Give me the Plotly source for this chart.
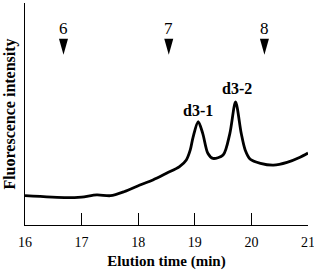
import plotly.graph_objects as go

# Elution profile (arbitrary fluorescence units)
time_min = [16, 16.74, 17.0, 17.27, 17.51, 17.75, 18.03, 18.26, 18.5, 18.73, 18.85,
            18.92, 18.97, 19.06, 19.14, 19.23, 19.32, 19.5, 19.62, 19.72, 19.82,
            19.89, 19.98, 20.16, 20.39, 20.63, 20.86, 21]
intensity = [13.2, 12.3, 12.6, 13.6, 13.2, 15.0, 18.0, 20.3, 23.3, 26.3, 29.3,
             33.8, 39.6, 46.5, 41.3, 32.3, 30.0, 31.5, 41.3, 55.5, 41.3,
             33.8, 29.6, 27.8, 27.0, 28.2, 30.5, 32.4]

# Fraction markers
marker_x = [16.68, 18.54, 20.23]
marker_labels = ["6", "7", "8"]

# Peak labels
peak_x = [19.05, 19.74]
peak_y = [51.8, 61.3]
peak_labels = ["d3-1", "d3-2"]

x_ticks = [16, 17, 18, 19, 20, 21]

serif = "Liberation Serif, Times New Roman, serif"

fig = go.Figure()
fig.add_trace(go.Scatter(x=time_min, y=intensity, mode="lines",
                         line=dict(color="black", width=2.8, shape="spline", smoothing=0.8),
                         showlegend=False, hoverinfo="skip"))

for x, t in zip(marker_x, marker_labels):
    fig.add_annotation(x=x, y=88.6, text=t, showarrow=False,
                       font=dict(family=serif, size=17, color="black"))
    fig.add_shape(type="path", xref="x", yref="y", xsizemode="pixel", ysizemode="pixel",
                  xanchor=x, yanchor=80.3, path="M-4.5,8 L4.5,8 L0,-8 Z",
                  fillcolor="black", line=dict(width=0))

for x, y, t in zip(peak_x, peak_y, peak_labels):
    fig.add_annotation(x=x, y=y, text="<b>%s</b>" % t, showarrow=False,
                       font=dict(family=serif, size=16, color="black"))

fig.update_layout(
    width=314, height=271,
    margin=dict(l=25, r=6, t=3, b=46),
    paper_bgcolor="white", plot_bgcolor="white",
    font=dict(family=serif, color="black"),
    xaxis=dict(range=[16, 21], tickvals=x_ticks, ticks="inside", ticklen=12,
               tickwidth=1.2, tickcolor="black", showline=True, linecolor="black",
               linewidth=1.3, showgrid=False, zeroline=False, automargin=False,
               tickfont=dict(family=serif, size=14), ticklabelstandoff=4,
               ticklabeloverflow="allow",
               title=dict(text="<b>Elution time (min)</b>", font=dict(family=serif, size=15),
                          standoff=6)),
    yaxis=dict(range=[0, 100], showticklabels=False, ticks="", showline=True,
               linecolor="black", linewidth=1.3, showgrid=False, zeroline=False,
               automargin=False,
               title=dict(text="<b>Fluorescence intensity</b>", font=dict(family=serif, size=16),
                          standoff=4)),
)

fig.write_html("out.html")
